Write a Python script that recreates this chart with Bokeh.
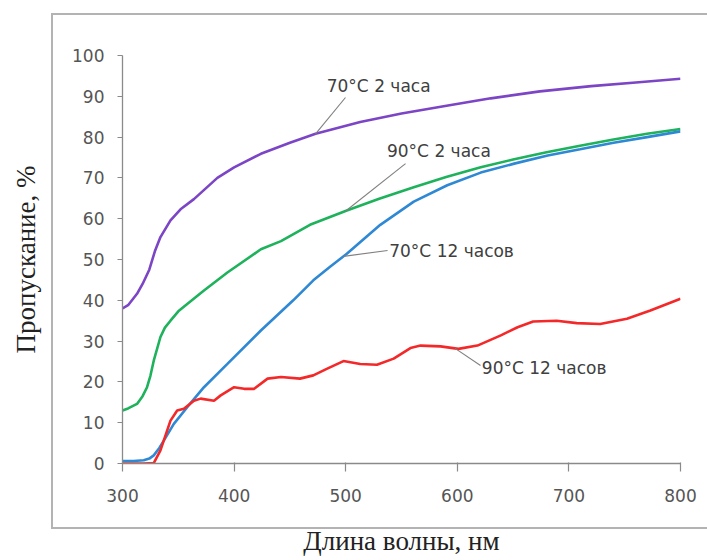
import numpy as np
from bokeh.plotting import figure
from bokeh.models import Range1d, FixedTicker, ColumnDataSource, InlineStyleSheet
from bokeh.core.properties import value
from bokeh.embed import file_html
from bokeh.resources import INLINE

# ---- data ----
wl_70_2h = [300, 305, 313, 318, 324, 329, 334, 343, 352, 364, 385, 400, 424, 450, 473, 513, 550, 593, 630, 674, 720, 760, 800]
t_70_2h = [38, 38.8, 41.6, 44, 47.5, 52, 55.5, 59.6, 62.3, 64.8, 70.0, 72.6, 75.9, 78.6, 80.8, 83.7, 85.8, 87.8, 89.5, 91.2, 92.5, 93.4, 94.3]

wl_90_2h = [300, 305, 313, 318, 322, 325, 328, 334, 338, 343, 350, 358, 373, 394, 424, 442, 468, 501, 530, 561, 590, 621, 650, 680, 710, 740, 770, 800]
t_90_2h = [13, 13.5, 14.6, 16.5, 18.7, 21.5, 25.2, 31, 33.3, 35, 37.3, 39.1, 42.4, 46.8, 52.5, 54.5, 58.5, 62, 64.9, 67.7, 70.2, 72.6, 74.5, 76.3, 77.9, 79.4, 80.8, 82]

wl_70_12h = [300, 310, 319, 324, 328, 333, 337, 346, 358, 373, 394, 424, 453, 471, 486, 501, 531, 561, 591, 621, 651, 681, 710, 740, 770, 800]
t_70_12h = [0.6, 0.6, 0.8, 1.2, 2, 3.8, 5.6, 9.7, 13.8, 18.7, 24.4, 32.6, 40, 44.9, 48.2, 51.4, 58.5, 64.2, 68.2, 71.3, 73.5, 75.5, 77.0, 78.6, 80.0, 81.4]

wl_90_12h = [300, 319, 328, 334, 343, 349, 355, 364, 370, 382, 388, 400, 409, 418, 430, 442, 459, 471, 483, 498, 513, 528, 543, 558,
             567, 585, 601, 618, 639, 654, 668, 689, 707, 728, 752, 773, 800]
t_90_12h = [0, 0, 0.1, 3.2, 10.5, 13, 13.4, 15.4, 15.9, 15.4, 16.7, 18.7, 18.3, 18.3, 20.8, 21.2, 20.8, 21.6, 23.2, 25.1, 24.4, 24.2, 25.7, 28.3,
            28.9, 28.7, 28.1, 28.9, 31.4, 33.4, 34.8, 35.0, 34.4, 34.2, 35.5, 37.5, 40.4]

series_names = ["70°C 2 часа", "90°C 2 часа", "70°C 12 часов", "90°C 12 часов"]
series_colors = ["#7B45C6", "#1DB25B", "#2E88D4", "#F42828"]

x_ticks = [300, 400, 500, 600, 700, 800]
y_ticks = [0, 10, 20, 30, 40, 50, 60, 70, 80, 90, 100]
x_title = "Длина волны, нм"
y_title = "Пропускание, %"

# ---- callout placement (data units) ----
label_texts = ["70°C 2 часа", "90°C 2 часа", "70°C 12 часов", "90°C 12 часов"]
label_x = [483, 537, 539, 622]
label_y = [92.6, 76.7, 52.2, 23.3]
leader_from_x = [499.8, 553.6, 537.5, 620.8]
leader_from_y = [89.7, 73.5, 52.2, 24.0]
leader_to_wl = [473, 500, 498, 598]

all_wl = [wl_70_2h, wl_90_2h, wl_70_12h, wl_90_12h]
all_t = [t_70_2h, t_90_2h, t_70_12h, t_90_12h]

# outer chart-area border (page decoration around the plot, as in the reference)
border_css = InlineStyleSheet(css="""
:host { position: relative; }
:host::after {
  content: "";
  position: absolute;
  left: 51px; top: 13px; width: 656px; height: 516px;
  border: 2px solid #b3b3b3; border-right: none;
  box-sizing: border-box;
  pointer-events: none;
}
""")

p = figure(width=707, height=560, output_backend="svg", toolbar_location=None,
           x_range=Range1d(300, 800), y_range=Range1d(0, 100),
           min_border_left=122, min_border_right=27, min_border_top=55, min_border_bottom=97,
           stylesheets=[border_css])
p.background_fill_color = "white"
p.border_fill_color = "white"
p.outline_line_color = None
p.xgrid.visible = False
p.ygrid.visible = False

for ax, ticks in ((p.xaxis[0], x_ticks), (p.yaxis[0], y_ticks)):
    ax.ticker = FixedTicker(ticks=ticks)
    ax.axis_line_color = "#8a8a8a"
    ax.axis_line_width = 1.3
    ax.major_tick_line_color = "#8a8a8a"
    ax.major_tick_line_width = 1.2
    ax.minor_tick_line_color = None
    ax.major_label_text_font = "DejaVu Sans"
    ax.major_label_text_font_size = "17px"
    ax.major_label_text_color = "#555555"
    ax.axis_label_text_font = "Liberation Serif"
    ax.axis_label_text_font_style = "normal"
    ax.axis_label_text_font_size = "27px"
    ax.axis_label_text_color = "#222222"

p.xaxis.major_tick_out = 8
p.xaxis.major_tick_in = 1
p.xaxis.major_label_standoff = 17
p.xaxis.axis_label = x_title
p.xaxis.axis_label_standoff = 21

p.yaxis.major_tick_out = 5
p.yaxis.major_tick_in = 0
p.yaxis.major_label_standoff = 13
p.yaxis.axis_label = y_title
p.yaxis.axis_label_standoff = 28

for wl, t, c in zip(all_wl, all_t, series_colors):
    p.line(wl, t, line_color=c, line_width=2.6)

# leader lines
to_y = [float(np.interp(w, wl, t)) for w, wl, t in zip(leader_to_wl, all_wl, all_t)]
p.segment(x0=leader_from_x, y0=leader_from_y, x1=leader_to_wl, y1=to_y,
          line_color="#7f7f7f", line_width=1.1)

src = ColumnDataSource(dict(x=label_x, y=label_y, t=label_texts))
p.text(x="x", y="y", text="t", source=src, text_font=value("DejaVu Sans"),
       text_font_size="17px", text_color="#404040", text_align="left", text_baseline="middle")

open("out.html", "w").write(file_html(p, INLINE))
